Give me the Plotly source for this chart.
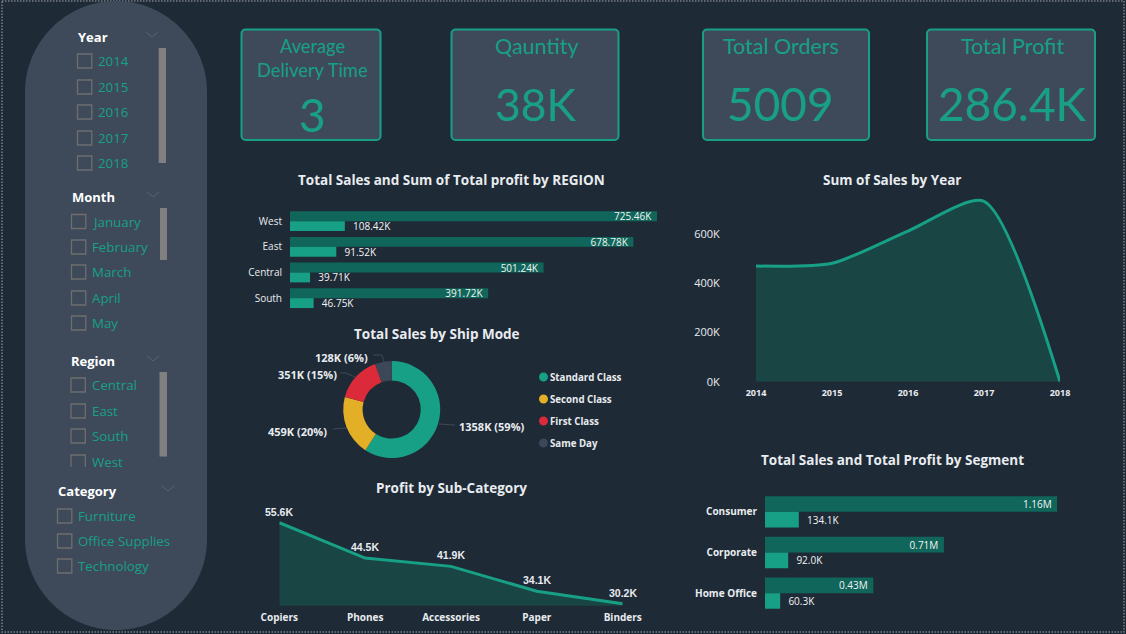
import plotly.graph_objects as go

W, H = 1126, 634
BG = "#1f2a37"; PANEL = "#3e4a5a"; TEAL = "#17a085"; DARK = "#10665a"; AREA = "#1a4545"
TXT = "#e8ecef"; BOX = "#6e6e6e"; BODY = "Open Sans"; KPI = "Lato"

# ---- data ----
regions = ["West", "East", "Central", "South"]
region_sales = [725.46, 678.78, 501.24, 391.72]
region_profit = [108.42, 91.52, 39.71, 46.75]
ship_modes = ["Standard Class", "Second Class", "First Class", "Same Day"]
ship_sales = [1358, 459, 351, 128]
ship_pct = [59, 20, 15, 6]
ship_colors = ["#17a085", "#e2af27", "#db2a3a", "#3c4757"]
subcats = ["Copiers", "Phones", "Accessories", "Paper", "Binders"]
subcat_profit = [55.6, 44.5, 41.9, 34.1, 30.2]
years = [2014, 2015, 2016, 2017, 2018]
year_sales = [470, 481, 612, 733, 0]
segments = ["Consumer", "Corporate", "Home Office"]
segment_sales = [1.16, 0.71, 0.43]
segment_sales_labels = ["1.16M", "0.71M", "0.43M"]
segment_profit = [0.1341, 0.0920, 0.0603]
segment_profit_labels = ["134.1K", "92.0K", "60.3K"]
year_items = ["2014", "2015", "2016", "2017", "2018"]
month_items = ["January", "February", "March", "April", "May"]
region_items = ["Central", "East", "South", "West"]
category_items = ["Furniture", "Office Supplies", "Technology"]

def px(x): return x / W
def py(y): return 1 - y / H
def dx(a, b): return [px(a), px(b)]
def dy(top, bottom): return [py(bottom), py(top)]

shapes, anns = [], []

def text(x, y, t, size=11, color=TXT, bold=False, anchor="left", font=BODY):
    anns.append(dict(xref="paper", yref="paper", x=px(x), y=py(y), text=f"<b>{t}</b>" if bold else t,
                     showarrow=False, xanchor=anchor, yanchor="middle", align=anchor,
                     font=dict(size=size, color=color, family=font), borderpad=0, borderwidth=0))

def path(d, line=None, fill=None, width=1, dash=None, layer="below"):
    shapes.append(dict(type="path", xref="paper", yref="paper", path=d, layer=layer,
                       fillcolor=fill or "rgba(0,0,0,0)",
                       line=dict(color=line or "rgba(0,0,0,0)", width=width if line else 0, dash=dash)))

def P(*pts):
    out = []
    for i, (x, y) in enumerate(pts):
        out.append(("M" if i == 0 else "L") + f"{px(x):.5f},{py(y):.5f}")
    return " ".join(out)

def rrect(x0, y0, x1, y1, r):
    k = r * 0.45
    seg = lambda a, b, c, d, e, f: f"C{px(a):.5f},{py(b):.5f} {px(c):.5f},{py(d):.5f} {px(e):.5f},{py(f):.5f}"
    return " ".join([
        P((x0 + r, y0), (x1 - r, y0)), seg(x1 - k, y0, x1, y0 + k, x1, y0 + r),
        f"L{px(x1):.5f},{py(y1 - r):.5f}", seg(x1, y1 - k, x1 - k, y1, x1 - r, y1),
        f"L{px(x0 + r):.5f},{py(y1):.5f}", seg(x0 + k, y1, x0, y1 - k, x0, y1 - r),
        f"L{px(x0):.5f},{py(y0 + r):.5f}", seg(x0, y0 + k, x0 + k, y0, x0 + r, y0), "Z"])

# page frame and slicer panel
path(P((2, 1), (1124, 1), (1124, 632), (2, 632)) + " Z", line="#7a7f85", width=1.5, dash="1.5px,1.5px")
path(rrect(25, 1, 207, 630, 91), fill=PANEL)

def slicer(title, tx, ty, items, bx, centers, chev_x, bar, clip_last=False):
    text(tx, ty, title, size=13, color="#ffffff", bold=True)
    path(P((chev_x - 6, ty - 5), (chev_x, ty), (chev_x + 6, ty - 5)), line="#58626f", width=1)
    for i, (it, c) in enumerate(zip(items, centers)):
        x0, x1 = bx, bx + 14.3
        if clip_last and i == len(items) - 1:
            path(P((x0, c + 5), (x0, c - 7), (x1, c - 7), (x1, c + 5)), line=BOX, width=1.3)
        else:
            path(P((x0, c - 7), (x1, c - 7), (x1, c + 7), (x0, c + 7)) + " Z", line=BOX, width=1.3)
        text(bx + 20.6, c, it, size=13.3, color=TEAL)
    if bar:
        path(P((bar[0], bar[2]), (bar[1], bar[2]), (bar[1], bar[3]), (bar[0], bar[3])) + " Z", fill="#808080")

slicer("Year", 78, 37, year_items, 77.5, [61, 87, 112, 138, 163], 152, (158.7, 166, 48, 163))
slicer("Month", 72, 197, month_items, 71.5, [221.5, 247, 272, 298, 323], 153, (160, 167, 208, 260))
slicer("Region", 71, 361, region_items, 71, [385, 411, 436, 462], 153, (159.5, 167, 372, 456.5), clip_last=True)
slicer("Category", 58, 491, category_items, 57.5, [516, 541, 566], 168, None)

# KPI cards
for x0, x1 in [(241.5, 380.5), (451.5, 618.5), (703, 869), (927, 1095)]:
    path(rrect(x0, 29.5, x1, 140, 4), line=TEAL, fill=PANEL, width=2)
text(312, 46, "Average", size=18.3, color=TEAL, anchor="center", font=KPI)
text(312, 70, "Delivery Time", size=18.3, color=TEAL, anchor="center", font=KPI)
text(312, 115, "3", size=46, color=TEAL, anchor="center", font=KPI)
text(536.5, 46.5, "Qauntity", size=21.5, color=TEAL, anchor="center", font=KPI)
text(536, 103.5, "38K", size=44.5, color=TEAL, anchor="center", font=KPI)
text(781, 46.5, "Total Orders", size=21.5, color=TEAL, anchor="center", font=KPI)
text(780, 103.5, "5009", size=46, color=TEAL, anchor="center", font=KPI)
text(1012, 46.5, "Total Profit", size=21.5, color=TEAL, anchor="center", font=KPI)
text(1012, 103.5, "286.4K", size=46, color=TEAL, anchor="center", font=KPI)

# chart titles
for x, y, t in [(451, 180, "Total Sales and Sum of Total profit by REGION"),
                (437, 334, "Total Sales by Ship Mode"),
                (451, 488, "Profit by Sub-Category"),
                (892, 180, "Sum of Sales by Year"),
                (892, 460, "Total Sales and Total Profit by Segment")]:
    text(x, y, t, size=13.5, color=TXT, bold=True, anchor="center")

# pie labels and leaders
pie_label_pos = [(459, 426, "left"), (327, 431, "right"), (337, 374, "right"), (368, 357, "right")]
pie_leaders = [[(439, 424), (455, 425)], [(347, 428), (333, 429)], [(355, 377), (346, 373), (340, 373)],
               [(384, 362), (382, 355), (373, 355)]]
for (x, y, a), v, p, l in zip(pie_label_pos, ship_sales, ship_pct, pie_leaders):
    text(x, y, f"{v}K ({p}%)", size=11, bold=True, anchor=a)
    path(P(*l), line="#3f4854", width=1)

# pie legend
for name, col, y in zip(ship_modes, ship_colors, [377, 399, 421, 443]):
    path(rrect(539, y - 4.5, 548, y + 4.5, 4.5), fill=col)
    text(550, y, name, size=9.7, bold=True)

# sub-category value labels, tied to the data axes
for c, v in zip(subcats, subcat_profit):
    anns.append(dict(xref="x3", yref="y3", x=c, y=v, text=f"<b>{v:.1f}K</b>", showarrow=False, yshift=11,
                     xanchor="center", yanchor="middle",
                     font=dict(size=10.5, color=TXT, family="Liberation Sans")))

fig = go.Figure()

# Region bars
tf = dict(size=10, color="#f2f4f5", family=BODY)
fig.add_bar(y=regions, x=region_sales, orientation="h", marker=dict(color=DARK, line_width=0),
            text=[f"{v:.2f}K\u00a0" for v in region_sales], textposition="inside", insidetextanchor="end",
            textangle=0, textfont=tf, constraintext="none", xaxis="x", yaxis="y", cliponaxis=False)
fig.add_bar(y=regions, x=region_profit, orientation="h", marker=dict(color=TEAL, line_width=0),
            text=[f"\u00a0\u00a0{v:.2f}K" for v in region_profit], textposition="outside", textangle=0,
            textfont=tf, constraintext="none", xaxis="x", yaxis="y", cliponaxis=False)

# Segment bars
fig.add_bar(y=segments, x=segment_sales, orientation="h", marker=dict(color=DARK, line_width=0),
            text=[t + "\u00a0" for t in segment_sales_labels], textposition="inside", insidetextanchor="end",
            textangle=0, textfont=tf, constraintext="none", xaxis="x2", yaxis="y2", cliponaxis=False)
fig.add_bar(y=segments, x=segment_profit, orientation="h", marker=dict(color=TEAL, line_width=0),
            text=["\u00a0\u00a0" + t for t in segment_profit_labels], textposition="outside", textangle=0,
            textfont=tf, constraintext="none", xaxis="x2", yaxis="y2", cliponaxis=False)

# Donut
fig.add_pie(labels=ship_modes, values=ship_sales, hole=0.6, sort=False, direction="clockwise", rotation=0,
            marker=dict(colors=ship_colors, line_width=0), textinfo="none", showlegend=False,
            domain=dict(x=dx(343.2, 440.2), y=dy(361, 458)))

# Sub-category area
fig.add_scatter(x=subcats, y=subcat_profit, mode="lines", fill="tozeroy", fillcolor=AREA,
                line=dict(color=TEAL, width=3), xaxis="x3", yaxis="y3", cliponaxis=False)

# Sales by year area
fig.add_scatter(x=years, y=year_sales, mode="lines", fill="tozeroy", fillcolor=AREA,
                line=dict(color=TEAL, width=3, shape="spline", smoothing=0.7),
                xaxis="x4", yaxis="y4", cliponaxis=False)

off = dict(showgrid=False, zeroline=False, showline=False, automargin=False)
fig.update_layout(
    width=W, height=H, margin=dict(l=0, r=0, t=0, b=0), autosize=False, showlegend=False,
    paper_bgcolor=BG, plot_bgcolor="rgba(0,0,0,0)", barmode="group", bargap=0.23, bargroupgap=0,
    shapes=shapes, annotations=anns, font=dict(family=BODY, color=TXT),
    xaxis=dict(domain=dx(290, 657), range=[0, 725.46], visible=False, **off),
    yaxis=dict(domain=dy(208.3, 311), range=[3.5, -0.5], anchor="x", ticks="outside", ticklen=5,
               tickcolor="rgba(0,0,0,0)", tickfont=dict(size=10, color=TXT), **off),
    xaxis2=dict(domain=dx(765, 1057.3), range=[0, 1.16], visible=False, **off),
    yaxis2=dict(domain=dy(491.5, 613.5), range=[2.5, -0.5], anchor="x2", ticks="outside", ticklen=5,
                tickcolor="rgba(0,0,0,0)", tickfont=dict(size=10, color=TXT, family=BODY, weight="bold"), **off),
    xaxis3=dict(domain=dx(279.3, 622.7), type="category", range=[0, 4], anchor="y3",
                ticks="outside", ticklen=2, tickcolor="rgba(0,0,0,0)",
                tickfont=dict(size=10, color=TXT, weight="bold"), **off),
    yaxis3=dict(domain=dy(515, 605.7), range=[29.57, 58], visible=False, **off),
    xaxis4=dict(domain=dx(756, 1060), range=[2014, 2018], anchor="y4", tickvals=years, ticktext=[str(y) for y in years],
                ticks="outside", ticklen=2, tickcolor="rgba(0,0,0,0)",
                tickfont=dict(size=9, color=TXT, weight="bold"), **off),
    yaxis4=dict(domain=dy(190, 381.7), range=[0, 778.8], anchor="x4", tickvals=[0, 200, 400, 600],
                ticktext=["0K", "200K", "400K", "600K"], ticks="outside", ticklen=33, tickcolor="rgba(0,0,0,0)",
                tickfont=dict(size=11, color=TXT), **off),
)

fig.write_html("out.html", post_script="document.body.style.margin='0';document.body.style.background='%s';" % BG,
               config=dict(displayModeBar=False))
